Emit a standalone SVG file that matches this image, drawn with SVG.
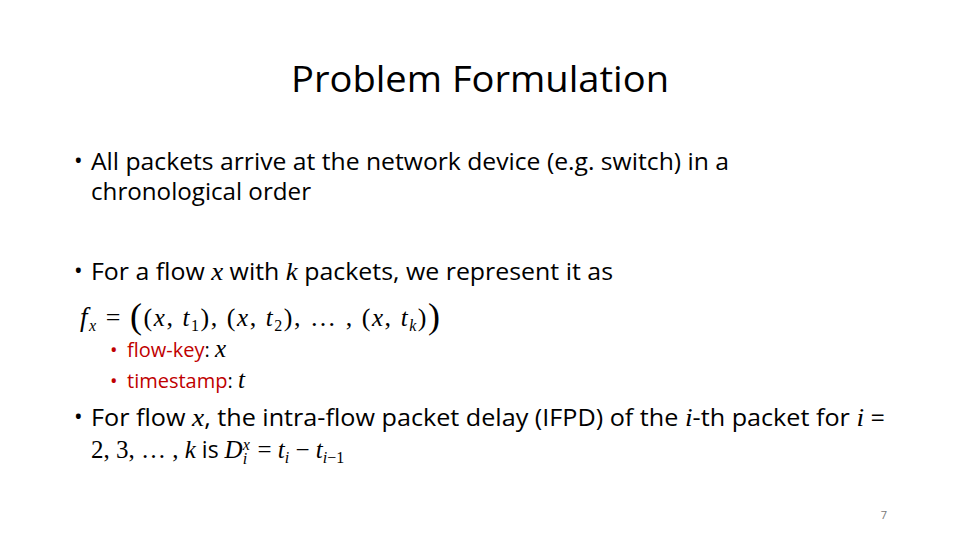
<svg xmlns="http://www.w3.org/2000/svg" width="960" height="540" viewBox="0 0 960 540">
<style>
.t{font-family:"Open Sans","Liberation Sans",sans-serif;fill:#000}
.b{font-size:23px}
.m{font-family:"Liberation Serif",serif;font-style:italic;font-size:25px}
.n{font-family:"Liberation Serif",serif;font-style:normal}
.s{font-size:16px}
.r{fill:#c00000}
</style>
<rect width="960" height="540" fill="#fff"/>
<g id="title"><text class="t" x="480" y="92" font-size="36" text-anchor="middle" textLength="378" lengthAdjust="spacingAndGlyphs">Problem Formulation</text></g>
<g id="body" class="t b">
<text x="74" y="169">•</text>
<text x="91" y="170" textLength="638" lengthAdjust="spacingAndGlyphs">All packets arrive at the network device (e.g. switch) in a</text>
<text x="91" y="200" textLength="220" lengthAdjust="spacingAndGlyphs">chronological order</text>
<text x="74" y="279">•</text>
<text x="91" y="280" textLength="522" lengthAdjust="spacingAndGlyphs">For a flow <tspan class="m">x</tspan> with <tspan class="m">k</tspan> packets, we represent it as</text>
<text x="80" y="326" font-size="26" class="n" textLength="360" lengthAdjust="spacing"><tspan class="m" style="font-size:27px">f</tspan><tspan class="m s" dy="5">x</tspan><tspan dy="-5">  =  </tspan><tspan font-size="36" dy="2">(</tspan><tspan dy="-2">(</tspan><tspan class="m">x</tspan>, <tspan class="m">t</tspan><tspan class="s" dy="5">1</tspan><tspan dy="-5">), (</tspan><tspan class="m">x</tspan>, <tspan class="m">t</tspan><tspan class="s" dy="5">2</tspan><tspan dy="-5">), … , (</tspan><tspan class="m">x</tspan>, <tspan class="m">t</tspan><tspan class="m s" dy="5">k</tspan><tspan dy="-5">)</tspan><tspan font-size="36" dy="2">)</tspan></text>
<text x="110" y="357" font-size="20" class="r">•</text>
<text x="127" y="357" font-size="20"><tspan class="r">flow-key</tspan>: <tspan class="m">x</tspan></text>
<text x="110" y="388" font-size="20" class="r">•</text>
<text x="127" y="388" font-size="20"><tspan class="r">timestamp</tspan>: <tspan class="m">t</tspan></text>
<text x="74" y="425">•</text>
<text x="91" y="426" textLength="794" lengthAdjust="spacingAndGlyphs">For flow <tspan class="m">x</tspan>, the intra-flow packet delay (IFPD) of the <tspan class="m">i</tspan>-th packet for <tspan class="m">i</tspan> =</text>
<text x="91" y="458"><tspan class="n" font-size="25">2, 3, … , </tspan><tspan class="m">k</tspan> is <tspan class="m">D</tspan><tspan class="m s" dy="-8">x</tspan><tspan class="m s" dx="-7" dy="14">i</tspan><tspan class="n" font-size="25" dx="4" dy="-6"> = </tspan><tspan class="m">t</tspan><tspan class="m s" dy="5">i</tspan><tspan class="n" font-size="25" dy="-5"> − </tspan><tspan class="m">t</tspan><tspan class="m s" dy="5">i</tspan><tspan class="n s">−1</tspan></text>
</g>
<g id="page"><text class="t" x="887" y="519" font-size="11" style="fill:#777" text-anchor="end">7</text></g>
</svg>
